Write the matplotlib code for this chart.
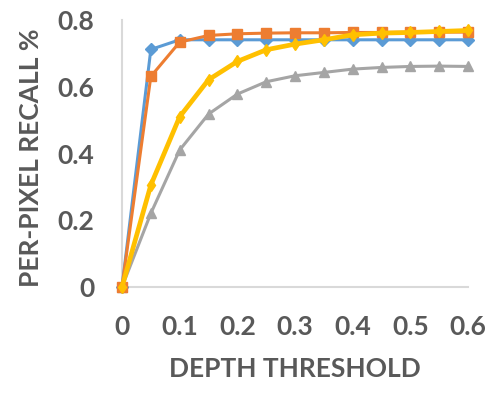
import matplotlib
matplotlib.use("Agg")
import matplotlib.pyplot as plt

x = [0, 0.05, 0.1, 0.15, 0.2, 0.25, 0.3, 0.35, 0.4, 0.45, 0.5, 0.55, 0.6]
blue = [0, 0.713, 0.742, 0.742, 0.742, 0.742, 0.742, 0.742, 0.742, 0.742, 0.742, 0.742, 0.742]
orange = [0, 0.632, 0.735, 0.755, 0.760, 0.762, 0.763, 0.763, 0.764, 0.764, 0.765, 0.765, 0.765]
yellow = [0, 0.306, 0.511, 0.622, 0.677, 0.712, 0.729, 0.742, 0.757, 0.762, 0.764, 0.767, 0.770]
gray = [0, 0.221, 0.411, 0.519, 0.579, 0.616, 0.634, 0.644, 0.654, 0.659, 0.662, 0.663, 0.662]
xticks = [0, 0.1, 0.2, 0.3, 0.4, 0.5, 0.6]
xticklabels = ["0", "0.1", "0.2", "0.3", "0.4", "0.5", "0.6"]
yticks = [0, 0.2, 0.4, 0.6, 0.8]
yticklabels = ["0", "0.2", "0.4", "0.6", "0.8"]

plt.rcParams['font.family'] = ['Lato', 'DejaVu Sans']
txt = '#595959'

fig = plt.figure(figsize=(5, 3.99), dpi=100)
ax = fig.add_axes([0.244, 0.2807, 0.692, 0.668])

ax.plot(x, blue, color='#5B9BD5', lw=2.2, marker='D', ms=6, clip_on=False, zorder=3)
ax.plot(x, orange, color='#ED7D31', lw=2.2, marker='s', ms=7.5, clip_on=False, zorder=4)
ax.plot(x, gray, color='#A5A5A5', lw=2.2, marker='^', ms=7.5, clip_on=False, zorder=3)
ax.plot(x, yellow, color='#FFC000', lw=3.4, marker='d', ms=6, clip_on=False, zorder=5)

ax.set_xlim(0, 0.6)
ax.set_ylim(0, 0.8)
ax.set_xticks(xticks)
ax.set_xticklabels(xticklabels)
ax.set_yticks(yticks)
ax.set_yticklabels(yticklabels)
for s in ['top', 'right']:
    ax.spines[s].set_visible(False)
for s in ['left', 'bottom']:
    ax.spines[s].set_color('#D9D9D9')
    ax.spines[s].set_linewidth(1.5)
ax.tick_params(length=0, labelsize=19, labelcolor=txt)
ax.tick_params(axis='x', pad=20)
ax.tick_params(axis='y', pad=20)
for lab in ax.get_xticklabels() + ax.get_yticklabels():
    lab.set_fontweight('bold')
ax.set_xlabel('DEPTH THRESHOLD', fontsize=19, fontweight='bold', color=txt)
ax.set_ylabel('PER-PIXEL RECALL %', fontsize=19, fontweight='bold', color=txt)
ax.xaxis.set_label_coords(0.5, -0.308)
ax.xaxis.label.set_va('center')
ax.yaxis.set_label_coords(-0.263, 0.485)
ax.yaxis.label.set_va('center')

fig.savefig('out.png', dpi=100)
